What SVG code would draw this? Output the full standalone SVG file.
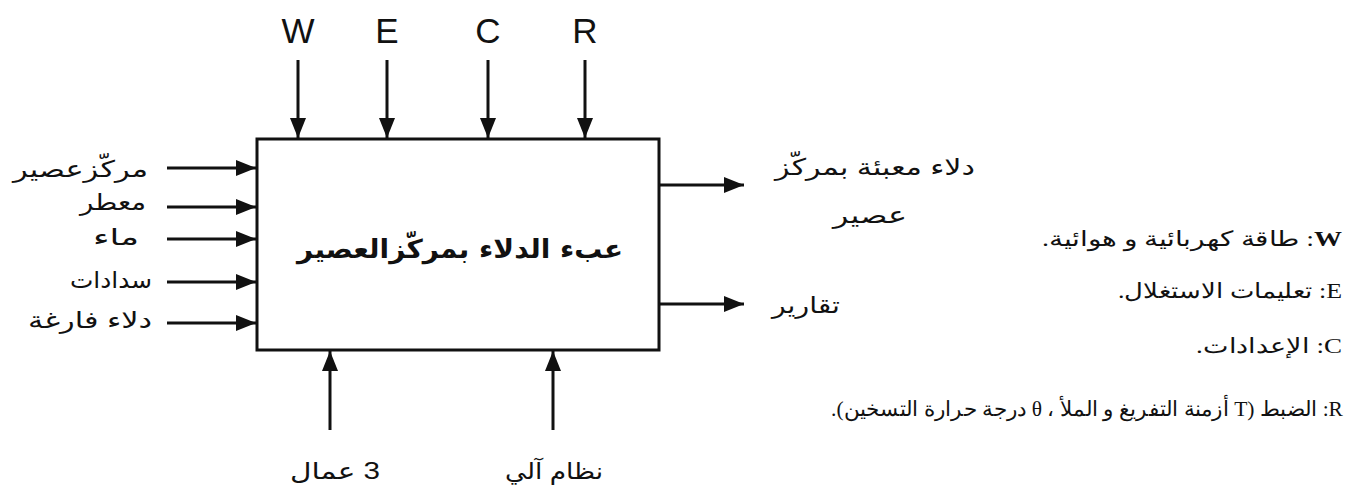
<svg xmlns="http://www.w3.org/2000/svg" width="1354" height="488" viewBox="0 0 1354 488">
<style>
.lbl{font-family:"Liberation Sans","DejaVu Sans",sans-serif;font-size:23px;fill:#111;direction:rtl;text-anchor:start}
.let{font-family:"Liberation Sans",Arial,sans-serif;font-size:35px;fill:#111;text-anchor:middle}
.title{font-family:"DejaVu Sans","Liberation Sans",sans-serif;font-size:26px;font-weight:bold;fill:#111;direction:rtl;text-anchor:start}
.leg{font-family:"Liberation Serif","DejaVu Serif",serif;font-size:21px;fill:#111;direction:rtl;text-anchor:start}
.ln{stroke:#111;stroke-width:3;fill:none}
</style>
<defs>
<marker id="a" viewBox="0 0 20 16" refX="20" refY="8" markerWidth="20" markerHeight="16" markerUnits="userSpaceOnUse" orient="auto">
<path d="M0,0 L20,8 L0,16 z" fill="#111"/>
</marker>
</defs>
<rect width="1354" height="488" fill="#fff"/>
<g id="process">
<rect x="257" y="139" width="402" height="211" fill="#fff" stroke="#111" stroke-width="3"/>
<text class="title" x="623" y="258" textLength="326" lengthAdjust="spacingAndGlyphs">عبء الدلاء بمركّزالعصير</text>
</g>
<g id="controls">
<text class="let" x="298" y="43">W</text>
<text class="let" x="387" y="43">E</text>
<text class="let" x="488" y="43">C</text>
<text class="let" x="585" y="43">R</text>
</g>
<g id="inputs">
<text class="lbl" x="148" y="177" textLength="135" lengthAdjust="spacingAndGlyphs">مركّزعصير</text>
<text class="lbl" x="146" y="210" textLength="66" lengthAdjust="spacingAndGlyphs">معطر</text>
<text class="lbl" x="139" y="245" textLength="46" lengthAdjust="spacingAndGlyphs">ماء</text>
<text class="lbl" x="152" y="288" textLength="82" lengthAdjust="spacingAndGlyphs">سدادات</text>
<text class="lbl" x="152" y="328" textLength="124" lengthAdjust="spacingAndGlyphs">دلاء فارغة</text>
</g>
<g id="outputs">
<text class="lbl" x="975" y="175" textLength="200" lengthAdjust="spacingAndGlyphs">دلاء معبئة بمركّز</text>
<text class="lbl" x="907" y="223" textLength="74" lengthAdjust="spacingAndGlyphs">عصير</text>
<text class="lbl" x="840" y="313" textLength="68" lengthAdjust="spacingAndGlyphs">تقارير</text>
</g>
<g id="mechanisms">
<text class="lbl" x="380" y="479" textLength="90" lengthAdjust="spacingAndGlyphs">3 عمال</text>
<text class="lbl" x="603" y="479" textLength="98" lengthAdjust="spacingAndGlyphs">نظام آلي</text>
</g>
<g id="legend">
<text class="leg" x="1342" y="246" textLength="300" lengthAdjust="spacingAndGlyphs"><tspan font-weight="bold">W</tspan>: طاقة كهربائية و هوائية.</text>
<text class="leg" x="1342" y="298" textLength="224" lengthAdjust="spacingAndGlyphs">E: تعليمات الاستغلال.</text>
<text class="leg" x="1342" y="353" textLength="146" lengthAdjust="spacingAndGlyphs">C: الإعدادات.</text>
<text class="leg" x="1343" y="416" textLength="512" lengthAdjust="spacingAndGlyphs">R: الضبط (T أزمنة التفريغ و الملأ ، θ درجة حرارة التسخين).</text>
</g>
<g id="connectors">
<line class="ln" x1="298" y1="60" x2="298" y2="138" marker-end="url(#a)"/>
<line class="ln" x1="387" y1="60" x2="387" y2="138" marker-end="url(#a)"/>
<line class="ln" x1="488" y1="60" x2="488" y2="138" marker-end="url(#a)"/>
<line class="ln" x1="585" y1="60" x2="585" y2="138" marker-end="url(#a)"/>
<line class="ln" x1="167" y1="168" x2="256" y2="168" marker-end="url(#a)"/>
<line class="ln" x1="167" y1="207" x2="256" y2="207" marker-end="url(#a)"/>
<line class="ln" x1="167" y1="239" x2="256" y2="239" marker-end="url(#a)"/>
<line class="ln" x1="167" y1="282" x2="256" y2="282" marker-end="url(#a)"/>
<line class="ln" x1="167" y1="323" x2="256" y2="323" marker-end="url(#a)"/>
<line class="ln" x1="659" y1="185" x2="744" y2="185" marker-end="url(#a)"/>
<line class="ln" x1="659" y1="304" x2="744" y2="304" marker-end="url(#a)"/>
<line class="ln" x1="330" y1="430" x2="330" y2="351" marker-end="url(#a)"/>
<line class="ln" x1="553" y1="430" x2="553" y2="351" marker-end="url(#a)"/>
</g>
</svg>
